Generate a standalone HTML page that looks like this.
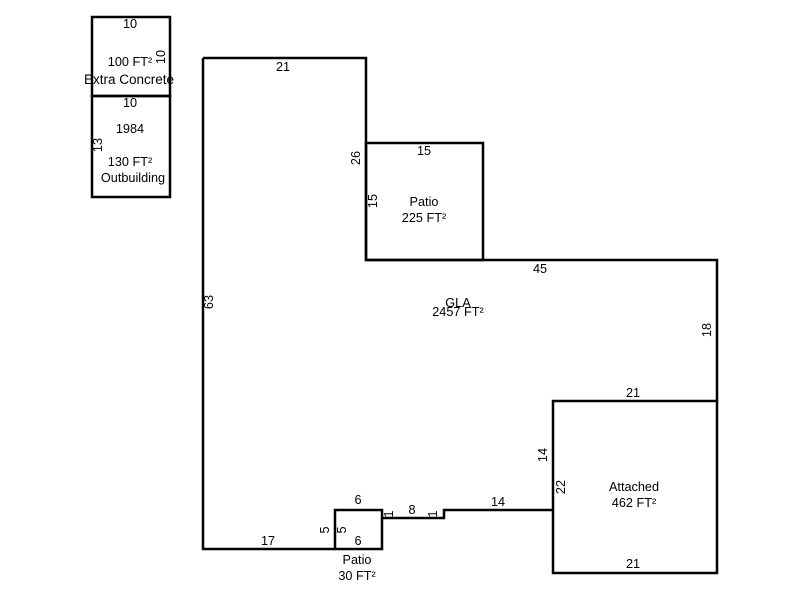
<!DOCTYPE html>
<html><head><style>body{margin:0;background:#fff}svg{display:block}text{font-family:"Liberation Sans",Arial,sans-serif;font-size:12.7px;fill:#000}</style></head><body>
<svg width="800" height="600" viewBox="0 0 800 600">
<g fill="none" stroke="#000" stroke-width="2.5">
<rect x="92" y="17" width="78" height="79"/>
<rect x="92" y="96" width="78" height="101"/>
<polyline points="203,58 366,58 366,260 717,260 717,401"/>
<polyline points="553,510 444,510 444,518 382,518"/>
<polyline points="335,549 203,549 203,58"/>
<rect x="366" y="143" width="117" height="117"/>
<rect x="553" y="401" width="164" height="172"/>
<rect x="335" y="510" width="47" height="39"/>
</g>
<g text-anchor="middle">
<text x="130" y="28">10</text>
<text x="130" y="66">100 FT²</text>
<text x="129" y="84" style="font-size:13.5px">Extra Concrete</text>
<text x="130" y="107">10</text>
<text x="130" y="133">1984</text>
<text x="130" y="166">130 FT²</text>
<text x="133" y="182">Outbuilding</text>
<text x="283" y="71">21</text>
<text x="424" y="155">15</text>
<text x="424" y="206">Patio</text>
<text x="424" y="222">225 FT²</text>
<text x="540" y="273">45</text>
<text x="458" y="307">GLA</text>
<text x="458" y="316">2457 FT²</text>
<text x="633" y="397">21</text>
<text x="634" y="491">Attached</text>
<text x="634" y="507">462 FT²</text>
<text x="633" y="568">21</text>
<text x="498" y="506">14</text>
<text x="412" y="514">8</text>
<text x="358" y="504">6</text>
<text x="358" y="545">6</text>
<text x="268" y="545">17</text>
<text x="357" y="564">Patio</text>
<text x="357" y="580">30 FT²</text>
</g>
<g text-anchor="middle">
<text transform="translate(165,57) rotate(-90)">10</text>
<text transform="translate(102,145) rotate(-90)">13</text>
<text transform="translate(360,158) rotate(-90)">26</text>
<text transform="translate(377,201) rotate(-90)">15</text>
<text transform="translate(213,302) rotate(-90)">63</text>
<text transform="translate(711,330) rotate(-90)">18</text>
<text transform="translate(547,455) rotate(-90)">14</text>
<text transform="translate(565,487) rotate(-90)">22</text>
<text transform="translate(329,530) rotate(-90)">5</text>
<text transform="translate(346,530) rotate(-90)">5</text>
<text transform="translate(393,514) rotate(-90)">1</text>
<text transform="translate(437,514) rotate(-90)">1</text>
</g>
</svg>
</body></html>
